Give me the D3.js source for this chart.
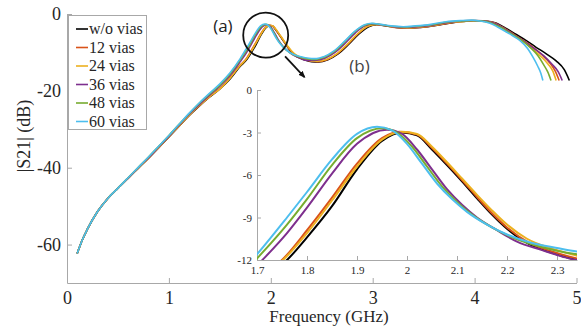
<!DOCTYPE html>
<html>
<head>
<meta charset="utf-8">
<script src="https://cdn.jsdelivr.net/npm/d3@7"></script>
<style>
  html, body { margin: 0; padding: 0; background: #fff; }
  svg { display: block; }
</style>
</head>
<body>
<div id="chart"></div>
<script>
// legend labels, one per series
const seriesNames = ['w/o vias', '12 vias', '24 vias', '36 vias', '48 vias', '60 vias'];
const seriesColors = ['#000000', '#D95319', '#EDB120', '#7E2F8E', '#77AC30', '#4DBEEE'];

// |S21| (dB) against frequency (GHz)
const woVias = [
  [0.10,-62.3],[0.15,-58.8],[0.20,-56.0],[0.30,-51.4],[0.40,-48.0],[0.50,-45.3],[0.60,-42.7],[0.70,-40.1],
  [0.80,-37.5],[0.90,-34.8],[1.00,-32.0],[1.10,-29.2],[1.20,-26.4],[1.30,-23.9],[1.40,-21.6],[1.50,-19.5],
  [1.60,-16.9],[1.70,-13.6],[1.76,-12.0],[1.80,-10.4],[1.85,-8.2],[1.90,-5.6],[1.95,-3.6],[1.99,-3.0],
  [2.02,-3.2],[2.05,-4.2],[2.08,-5.3],[2.11,-6.45],[2.14,-7.65],[2.17,-8.8],[2.20,-9.8],[2.24,-10.8],
  [2.29,-11.5],[2.34,-12.0],[2.40,-12.4],[2.47,-12.5],[2.56,-11.9],[2.66,-10.4],[2.76,-8.0],[2.86,-5.3],
  [2.96,-3.3],[3.04,-2.8],[3.13,-3.1],[3.23,-3.5],[3.35,-3.7],[3.47,-3.5],[3.62,-3.0],[3.77,-2.3],
  [3.92,-1.9],[4.02,-1.8],[4.12,-1.9],[4.20,-2.3],[4.30,-3.6],[4.40,-5.2],[4.50,-6.8],[4.60,-8.6],
  [4.70,-10.3],[4.80,-12.2],[4.88,-14.5],[4.93,-17.3]
];
const vias12 = [
  [0.10,-62.3],[0.15,-58.8],[0.20,-56.0],[0.30,-51.4],[0.40,-48.0],[0.50,-45.3],[0.60,-42.7],[0.70,-40.1],
  [0.80,-37.5],[0.90,-34.7],[1.00,-31.9],[1.10,-29.1],[1.20,-26.3],[1.30,-23.8],[1.40,-21.5],[1.50,-19.4],
  [1.60,-16.6],[1.70,-13.3],[1.75,-12.0],[1.80,-9.9],[1.85,-7.6],[1.90,-5.2],[1.95,-3.4],[1.985,-2.95],
  [2.02,-3.15],[2.05,-4.1],[2.08,-5.2],[2.11,-6.35],[2.14,-7.55],[2.17,-8.7],[2.20,-9.7],[2.24,-10.7],
  [2.29,-11.4],[2.34,-11.9],[2.40,-12.3],[2.46,-12.4],[2.55,-11.9],[2.65,-10.4],[2.75,-8.0],[2.85,-5.3],
  [2.95,-3.2],[3.03,-2.7],[3.12,-3.0],[3.22,-3.5],[3.34,-3.7],[3.46,-3.5],[3.61,-3.0],[3.76,-2.3],
  [3.91,-1.9],[4.01,-1.8],[4.11,-1.9],[4.19,-2.3],[4.28,-3.5],[4.38,-5.2],[4.48,-6.9],[4.58,-8.8],
  [4.66,-10.6],[4.74,-12.8],[4.79,-14.8],[4.83,-17.3]
];
const vias24 = [
  [0.10,-62.3],[0.15,-58.8],[0.20,-56.0],[0.30,-51.4],[0.40,-48.0],[0.50,-45.3],[0.60,-42.7],[0.70,-40.1],
  [0.80,-37.5],[0.90,-34.7],[1.00,-31.9],[1.10,-29.1],[1.20,-26.3],[1.30,-23.8],[1.40,-21.5],[1.50,-19.5],
  [1.60,-16.7],[1.70,-13.4],[1.752,-12.0],[1.80,-10.1],[1.85,-7.8],[1.90,-5.4],[1.95,-3.5],[1.99,-2.95],
  [2.02,-3.1],[2.05,-4.0],[2.08,-5.1],[2.11,-6.25],[2.14,-7.4],[2.17,-8.5],[2.20,-9.5],[2.24,-10.5],
  [2.29,-11.2],[2.34,-11.7],[2.40,-12.2],[2.46,-12.3],[2.55,-11.8],[2.65,-10.3],[2.75,-7.9],[2.85,-5.2],
  [2.95,-3.2],[3.03,-2.7],[3.12,-3.0],[3.22,-3.4],[3.34,-3.6],[3.46,-3.4],[3.61,-2.9],[3.76,-2.2],
  [3.91,-1.9],[4.01,-1.8],[4.10,-1.9],[4.18,-2.3],[4.27,-3.5],[4.37,-5.2],[4.47,-7.0],[4.56,-8.9],
  [4.64,-10.8],[4.72,-13.0],[4.77,-15.0],[4.80,-17.3]
];
const vias36 = [
  [0.10,-62.3],[0.15,-58.8],[0.20,-56.0],[0.30,-51.4],[0.40,-48.0],[0.50,-45.3],[0.60,-42.7],[0.70,-40.0],
  [0.80,-37.4],[0.90,-34.6],[1.00,-31.8],[1.10,-28.9],[1.20,-26.1],[1.30,-23.5],[1.40,-21.1],[1.50,-18.8],
  [1.60,-16.0],[1.70,-12.4],[1.76,-10.1],[1.80,-8.3],[1.85,-5.9],[1.90,-3.8],[1.96,-2.8],[1.99,-3.1],
  [2.02,-4.2],[2.05,-5.6],[2.08,-7.0],[2.11,-8.1],[2.14,-9.0],[2.18,-9.9],[2.22,-10.7],[2.27,-11.3],
  [2.31,-11.75],[2.34,-12.0],[2.40,-12.1],[2.45,-12.0],[2.53,-11.5],[2.63,-10.0],[2.73,-7.6],[2.83,-4.9],
  [2.93,-3.0],[3.01,-2.6],[3.10,-2.9],[3.20,-3.3],[3.32,-3.5],[3.44,-3.3],[3.59,-2.9],[3.74,-2.2],
  [3.89,-1.8],[3.99,-1.7],[4.08,-1.8],[4.18,-2.3],[4.28,-3.6],[4.38,-5.3],[4.48,-7.0],[4.58,-8.9],
  [4.68,-10.9],[4.76,-13.1],[4.82,-15.0],[4.86,-17.3]
];
const vias48 = [
  [0.10,-62.3],[0.15,-58.8],[0.20,-56.0],[0.30,-51.4],[0.40,-48.0],[0.50,-45.3],[0.60,-42.6],[0.70,-39.9],
  [0.80,-37.2],[0.90,-34.4],[1.00,-31.6],[1.10,-28.7],[1.20,-25.9],[1.30,-23.2],[1.40,-20.8],[1.50,-18.5],
  [1.60,-15.6],[1.70,-11.9],[1.76,-9.5],[1.80,-7.7],[1.85,-5.3],[1.90,-3.4],[1.95,-2.7],[1.98,-3.0],
  [2.01,-4.0],[2.04,-5.4],[2.07,-6.8],[2.10,-7.9],[2.13,-8.8],[2.17,-9.7],[2.21,-10.4],[2.26,-11.0],
  [2.30,-11.35],[2.34,-11.6],[2.40,-11.8],[2.45,-11.8],[2.52,-11.3],[2.62,-9.8],[2.72,-7.4],[2.82,-4.7],
  [2.92,-2.9],[3.00,-2.5],[3.09,-2.8],[3.19,-3.2],[3.31,-3.4],[3.43,-3.2],[3.58,-2.8],[3.73,-2.1],
  [3.88,-1.8],[3.98,-1.7],[4.06,-1.8],[4.15,-2.2],[4.25,-3.4],[4.35,-5.0],[4.45,-6.6],[4.55,-8.8],
  [4.62,-10.8],[4.68,-13.3],[4.72,-15.2],[4.75,-17.3]
];
const vias60 = [
  [0.10,-62.3],[0.15,-58.8],[0.20,-56.0],[0.30,-51.4],[0.40,-48.0],[0.50,-45.3],[0.60,-42.6],[0.70,-39.9],
  [0.80,-37.2],[0.90,-34.4],[1.00,-31.6],[1.10,-28.7],[1.20,-25.8],[1.30,-23.1],[1.40,-20.6],[1.50,-18.2],
  [1.60,-15.3],[1.70,-11.6],[1.76,-9.0],[1.80,-7.2],[1.85,-4.9],[1.90,-3.1],[1.94,-2.6],[1.97,-2.85],
  [2.00,-3.8],[2.03,-5.2],[2.06,-6.6],[2.09,-7.7],[2.12,-8.6],[2.16,-9.5],[2.20,-10.2],[2.25,-10.8],
  [2.30,-11.15],[2.34,-11.4],[2.40,-11.6],[2.45,-11.6],[2.52,-11.1],[2.62,-9.6],[2.72,-7.2],[2.82,-4.6],
  [2.92,-2.8],[2.99,-2.4],[3.08,-2.7],[3.18,-3.1],[3.30,-3.3],[3.42,-3.1],[3.57,-2.7],[3.72,-2.0],
  [3.87,-1.7],[3.97,-1.6],[4.05,-1.8],[4.15,-2.4],[4.22,-3.3],[4.30,-4.5],[4.37,-5.6],[4.44,-6.8],
  [4.52,-9.0],[4.57,-11.1],[4.62,-13.6],[4.65,-15.4],[4.67,-17.3]
];

const mainXTicks = [0, 1, 2, 3, 4, 5];
const mainYTicks = [0, -20, -40, -60];
const insetXTicks = [1.7, 1.8, 1.9, 2.0, 2.1, 2.2, 2.3];
const insetYTicks = [0, -3, -6, -9, -12];

const series = [woVias, vias12, vias24, vias36, vias48, vias60].map((pts, i) => ({
  name: seriesNames[i],
  color: seriesColors[i],
  points: pts.map(([f, db]) => ({ f, db })),
}));

const W = 581, H = 327;
const SERIF = 'Liberation Serif';
const SANS = 'Open Sans';
const axisGray = '#a8a8a8';
const textColor = '#262626';

// one font name only: a list did not resolve here
function font(sel, family, size) {
  return sel
    .attr('font-family', family)
    .attr('font-size', size)
    .style('font-family', `"${family}"`)
    .style('font-size', size + 'px');
}

const svg = d3.select('#chart').append('svg')
  .attr('width', W)
  .attr('height', H);

const defs = svg.append('defs');
defs.append('marker')
  .attr('id', 'arrow')
  .attr('viewBox', '0 0 10 10')
  .attr('refX', 8).attr('refY', 5)
  .attr('markerWidth', 4).attr('markerHeight', 4)
  .attr('orient', 'auto')
  .append('path')
  .attr('d', 'M0,1 L10,5 L0,9 z')
  .attr('fill', '#111');

// ---- main axes ----
const x = d3.scaleLinear().domain([0, 5]).range([67, 576.5]);
const y = d3.scaleLinear().domain([-70, 0]).range([283, 14]);

function styleAxis(g, size) {
  g.attr('font-family', SERIF).attr('font-size', size);
  g.select('.domain').attr('stroke', axisGray).attr('stroke-width', 1);
  g.selectAll('.tick line').attr('stroke', axisGray);
  g.selectAll('.tick text').attr('fill', textColor).call(font, SERIF, size);
}

svg.append('g')
  .attr('transform', `translate(0,${y(-70)})`)
  .call(d3.axisBottom(x).tickValues(mainXTicks).tickFormat(d => String(d))
    .tickSizeInner(-5).tickSizeOuter(0).tickPadding(8))
  .call(g => styleAxis(g, 18));

svg.append('g')
  .attr('transform', `translate(${x(0)},0)`)
  .call(d3.axisLeft(y).tickValues(mainYTicks).tickFormat(d => String(d))
    .tickSizeInner(-5).tickSizeOuter(0).tickPadding(6))
  .call(g => styleAxis(g, 18));

svg.append('text')
  .attr('x', 329)
  .attr('y', 322)
  .attr('text-anchor', 'middle')
  .attr('fill', textColor)
  .call(font, SERIF, 17)
  .text('Frequency (GHz)');

svg.append('text')
  .attr('transform', 'translate(30,136) rotate(-90)')
  .attr('text-anchor', 'middle')
  .attr('fill', textColor)
  .call(font, SERIF, 18)
  .text('|S21| (dB)');

const mainLine = d3.line()
  .x(d => x(d.f))
  .y(d => y(d.db))
  .curve(d3.curveMonotoneX);

svg.append('g')
  .selectAll('path')
  .data(series)
  .join('path')
  .attr('d', d => mainLine(d.points))
  .attr('fill', 'none')
  .attr('stroke', d => d.color)
  .attr('stroke-width', 1.6);

// ---- legend ----
const legend = svg.append('g');
legend.append('rect')
  .attr('x', 68.5).attr('y', 15.5)
  .attr('width', 78).attr('height', 114)
  .attr('fill', '#fff')
  .attr('stroke', axisGray);

const rows = legend.selectAll('g.row')
  .data(series)
  .join('g')
  .attr('class', 'row')
  .attr('transform', (d, i) => `translate(0,${29 + i * 18.5})`);

rows.append('line')
  .attr('x1', 76).attr('x2', 88)
  .attr('stroke', d => d.color)
  .attr('stroke-width', 1.6);

rows.append('text')
  .attr('x', 89)
  .attr('y', 5)
  .attr('fill', textColor)
  .call(font, SERIF, 16)
  .text(d => d.name);

// ---- annotations ----
svg.append('text')
  .attr('x', x(1.53)).attr('y', y(-4.6))
  .attr('text-anchor', 'middle')
  .attr('fill', '#222')
  .call(font, SANS, 17)
  .text('(a)');

svg.append('circle')
  .attr('cx', x(1.95)).attr('cy', y(-5.5))
  .attr('r', 22.5)
  .attr('fill', 'none')
  .attr('stroke', '#111')
  .attr('stroke-width', 1.8);

svg.append('line')
  .attr('x1', x(2.14)).attr('y1', y(-11))
  .attr('x2', x(2.33)).attr('y2', y(-16.4))
  .attr('stroke', '#111')
  .attr('stroke-width', 1.8)
  .attr('marker-end', 'url(#arrow)');

svg.append('text')
  .attr('x', x(2.87)).attr('y', y(-15))
  .attr('text-anchor', 'middle')
  .attr('fill', '#444')
  .call(font, SANS, 17)
  .text('(b)');

// ---- inset (b) ----
const xi = d3.scaleLinear().domain([1.7, 2.34]).range([257, 577]);
const yi = d3.scaleLinear().domain([-12, 0]).range([260, 90]);

defs.append('clipPath')
  .attr('id', 'inset-clip')
  .append('rect')
  .attr('x', xi(1.7)).attr('y', yi(0))
  .attr('width', xi(2.34) - xi(1.7))
  .attr('height', yi(-12) - yi(0));

const inset = svg.append('g');

inset.append('g')
  .attr('transform', `translate(0,${yi(-12)})`)
  .call(d3.axisBottom(xi).tickValues(insetXTicks).tickFormat(d => String(+d.toFixed(1)))
    .tickSizeInner(-4).tickSizeOuter(0).tickPadding(6))
  .call(g => styleAxis(g, 11));

inset.append('g')
  .attr('transform', `translate(${xi(1.7)},0)`)
  .call(d3.axisLeft(yi).tickValues(insetYTicks).tickFormat(d => String(d))
    .tickSizeInner(-4).tickSizeOuter(0).tickPadding(5))
  .call(g => styleAxis(g, 11));

const insetLine = d3.line()
  .x(d => xi(d.f))
  .y(d => yi(d.db))
  .curve(d3.curveMonotoneX);

inset.append('g')
  .attr('clip-path', 'url(#inset-clip)')
  .selectAll('path')
  .data(series)
  .join('path')
  .attr('d', d => insetLine(d.points))
  .attr('fill', 'none')
  .attr('stroke', d => d.color)
  .attr('stroke-width', 2);
</script>
</body>
</html>
